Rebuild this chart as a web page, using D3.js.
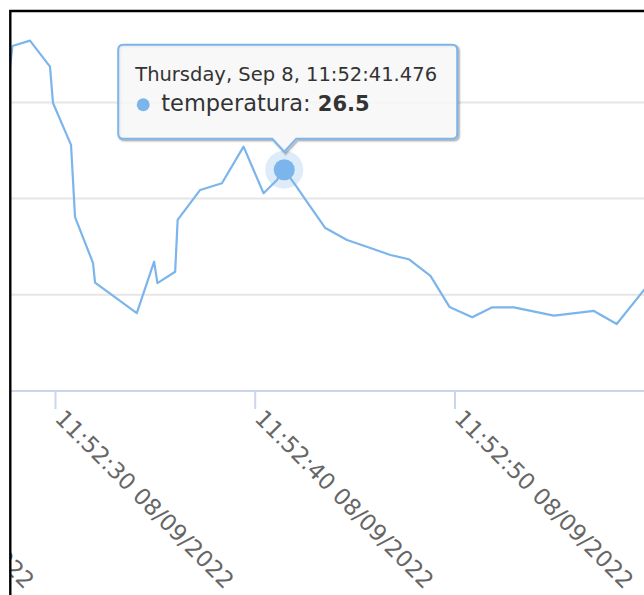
<!DOCTYPE html>
<html>
<head>
<meta charset="utf-8">
<script src="https://cdn.jsdelivr.net/npm/d3@7"></script>
<style>
body { margin: 0; background: #fff; }
svg { display: block; font-family: "DejaVu Sans", sans-serif; }
</style>
</head>
<body>
<div id="chart"></div>
<script>
// temperature readings of 08/09/2022
const day = "2022-09-08";
const times = ["11:52:27.594", "11:52:27.870", "11:52:28.747", "11:52:29.749", "11:52:29.900",
  "11:52:30.802", "11:52:31.003", "11:52:31.905", "11:52:32.005", "11:52:34.095",
  "11:52:34.962", "11:52:35.128", "11:52:36.015", "11:52:36.140", "11:52:37.268",
  "11:52:38.356", "11:52:39.439", "11:52:40.441", "11:52:41.113", "11:52:41.476",
  "11:52:42.030", "11:52:42.581", "11:52:43.534", "11:52:44.622", "11:52:45.789",
  "11:52:46.792", "11:52:47.709", "11:52:48.797", "11:52:49.749", "11:52:50.887",
  "11:52:51.890", "11:52:52.972", "11:52:54.977", "11:52:56.982", "11:52:58.120",
  "11:52:59.489", "11:53:00.576"];
const temperatures = [30.39, 32.93, 33.21, 31.86, 29.97,
  27.79, 24.04, 21.65, 20.63, 19.05,
  21.72, 20.61, 21.20, 23.89, 25.45,
  25.80, 27.70, 25.28, 25.97, 26.5,
  25.71, 24.88, 23.47, 22.85, 22.43,
  22.07, 21.85, 20.98, 19.37, 18.83,
  19.35, 19.35, 18.92, 19.16, 18.48,
  20.25, 21.71];
const yTicks = [15, 20, 25, 30, 35];
const xTicks = ["11:52:20", "11:52:30", "11:52:40", "11:52:50", "11:53:00"];
const seriesName = "temperatura";
const hoverIndex = 19;

const parseTime = d3.timeParse("%Y-%m-%d %H:%M:%S.%L");
const parseTick = d3.timeParse("%Y-%m-%d %H:%M:%S");
let data = times.map(function(t, i) { return {time: parseTime(day + " " + t), value: temperatures[i]}; });
let tickDates = xTicks.map(function(t) { return parseTick(day + " " + t); });

const svgWidth = 644, svgHeight = 595;
const lineColor = "#7cb5ec";

let svg = d3.select("#chart").append("svg")
  .attr("width", svgWidth)
  .attr("height", svgHeight);

// the screenshot only shows part of the plot, so the scales run past the frame
let x = d3.scaleTime()
  .domain([tickDates[1], tickDates[3]])
  .range([55, 454.5]);
let y = d3.scaleLinear()
  .domain([yTicks[0], yTicks[yTicks.length - 1]])
  .range([391, 6.2]);

svg.append("clipPath").attr("id", "frame")
  .append("rect").attr("x", 11).attr("y", 12).attr("width", svgWidth).attr("height", svgHeight);

let g = svg.append("g").attr("clip-path", "url(#frame)");

// grid
g.selectAll(".grid")
  .data(yTicks.slice(1))
  .enter().append("line")
  .attr("class", "grid")
  .attr("x1", 0).attr("x2", svgWidth)
  .attr("y1", function(d) { return y(d); })
  .attr("y2", function(d) { return y(d); })
  .attr("stroke", "#e6e6e6")
  .attr("stroke-width", 2);

// x axis
let xAxis = g.append("g")
  .attr("transform", "translate(0," + y(yTicks[0]) + ")")
  .call(d3.axisBottom(x).tickValues(tickDates).tickSize(18).tickFormat(d3.timeFormat("%H:%M:%S %d/%m/%Y")));
xAxis.select(".domain").remove();
xAxis.insert("line", ":first-child")
  .attr("x1", 0).attr("x2", svgWidth)
  .attr("stroke", "#ccd6eb").attr("stroke-width", 2);
xAxis.selectAll(".tick line").attr("stroke", "#ccd6eb").attr("stroke-width", 2);
xAxis.selectAll(".tick text")
  .attr("fill", "#666666")
  .attr("font-size", "22.8px")
  .attr("font-family", "DejaVu Sans, sans-serif")
  .attr("text-anchor", "start")
  .attr("x", 0).attr("y", 0).attr("dy", "0.35em")
  .attr("transform", "translate(4,23) rotate(45)");

// series
let line = d3.line()
  .x(function(d) { return x(d.time); })
  .y(function(d) { return y(d.value); });
g.append("path")
  .datum(data)
  .attr("fill", "none")
  .attr("stroke", lineColor)
  .attr("stroke-width", 2.2)
  .attr("stroke-linejoin", "round")
  .attr("d", line);

// hovered point
let hp = data[hoverIndex];
let px = x(hp.time), py = y(hp.value);
g.append("circle").attr("cx", px).attr("cy", py).attr("r", 19)
  .attr("fill", lineColor).attr("fill-opacity", 0.25);
g.append("circle").attr("cx", px).attr("cy", py).attr("r", 10.5)
  .attr("fill", lineColor);

// tooltip
let tipX = px, tipY = py - 18;
let bx0 = tipX - 166, bx1 = tipX + 173, by0 = tipY - 107, by1 = tipY - 13, r = 5;
let tipPath = "M" + (bx0 + r) + "," + by0 +
  "L" + (bx1 - r) + "," + by0 + "Q" + bx1 + "," + by0 + " " + bx1 + "," + (by0 + r) +
  "L" + bx1 + "," + (by1 - r) + "Q" + bx1 + "," + by1 + " " + (bx1 - r) + "," + by1 +
  "L" + (tipX + 12) + "," + by1 + "L" + tipX + "," + tipY + "L" + (tipX - 12) + "," + by1 +
  "L" + (bx0 + r) + "," + by1 + "Q" + bx0 + "," + by1 + " " + bx0 + "," + (by1 - r) +
  "L" + bx0 + "," + (by0 + r) + "Q" + bx0 + "," + by0 + " " + (bx0 + r) + "," + by0 + "Z";

let tip = g.append("g");
[[5, 0.05], [3, 0.1], [1.5, 0.15]].forEach(function(s) {
  tip.append("path").attr("d", tipPath)
    .attr("transform", "translate(1.5,1.5)")
    .attr("fill", "none")
    .attr("stroke", "rgb(0,0,0)")
    .attr("stroke-opacity", s[1])
    .attr("stroke-width", s[0]);
});
tip.append("path").attr("d", tipPath)
  .attr("fill", "rgb(247,247,247)").attr("fill-opacity", 0.85)
  .attr("stroke", lineColor).attr("stroke-width", 2);

tip.append("text")
  .attr("x", bx0 + 17).attr("y", by0 + 36)
  .attr("font-size", "19.5px").attr("fill", "#333333")
  .text(d3.timeFormat("%A, %b %-d, %H:%M:%S.%L")(hp.time));
tip.append("circle").attr("cx", bx0 + 25).attr("cy", by0 + 60).attr("r", 6.5).attr("fill", lineColor);
let body = tip.append("text")
  .attr("x", bx0 + 43).attr("y", by0 + 66)
  .attr("font-size", "22.5px").attr("fill", "#333333");
body.append("tspan").text(seriesName + ": ");
body.append("tspan").attr("font-weight", "bold").attr("font-size", "21px").text(hp.value);

// screenshot frame
svg.append("path")
  .attr("d", "M10.3," + svgHeight + "V11H" + svgWidth)
  .attr("fill", "none")
  .attr("stroke", "#000")
  .attr("stroke-width", 2.4);
</script>
</body>
</html>
